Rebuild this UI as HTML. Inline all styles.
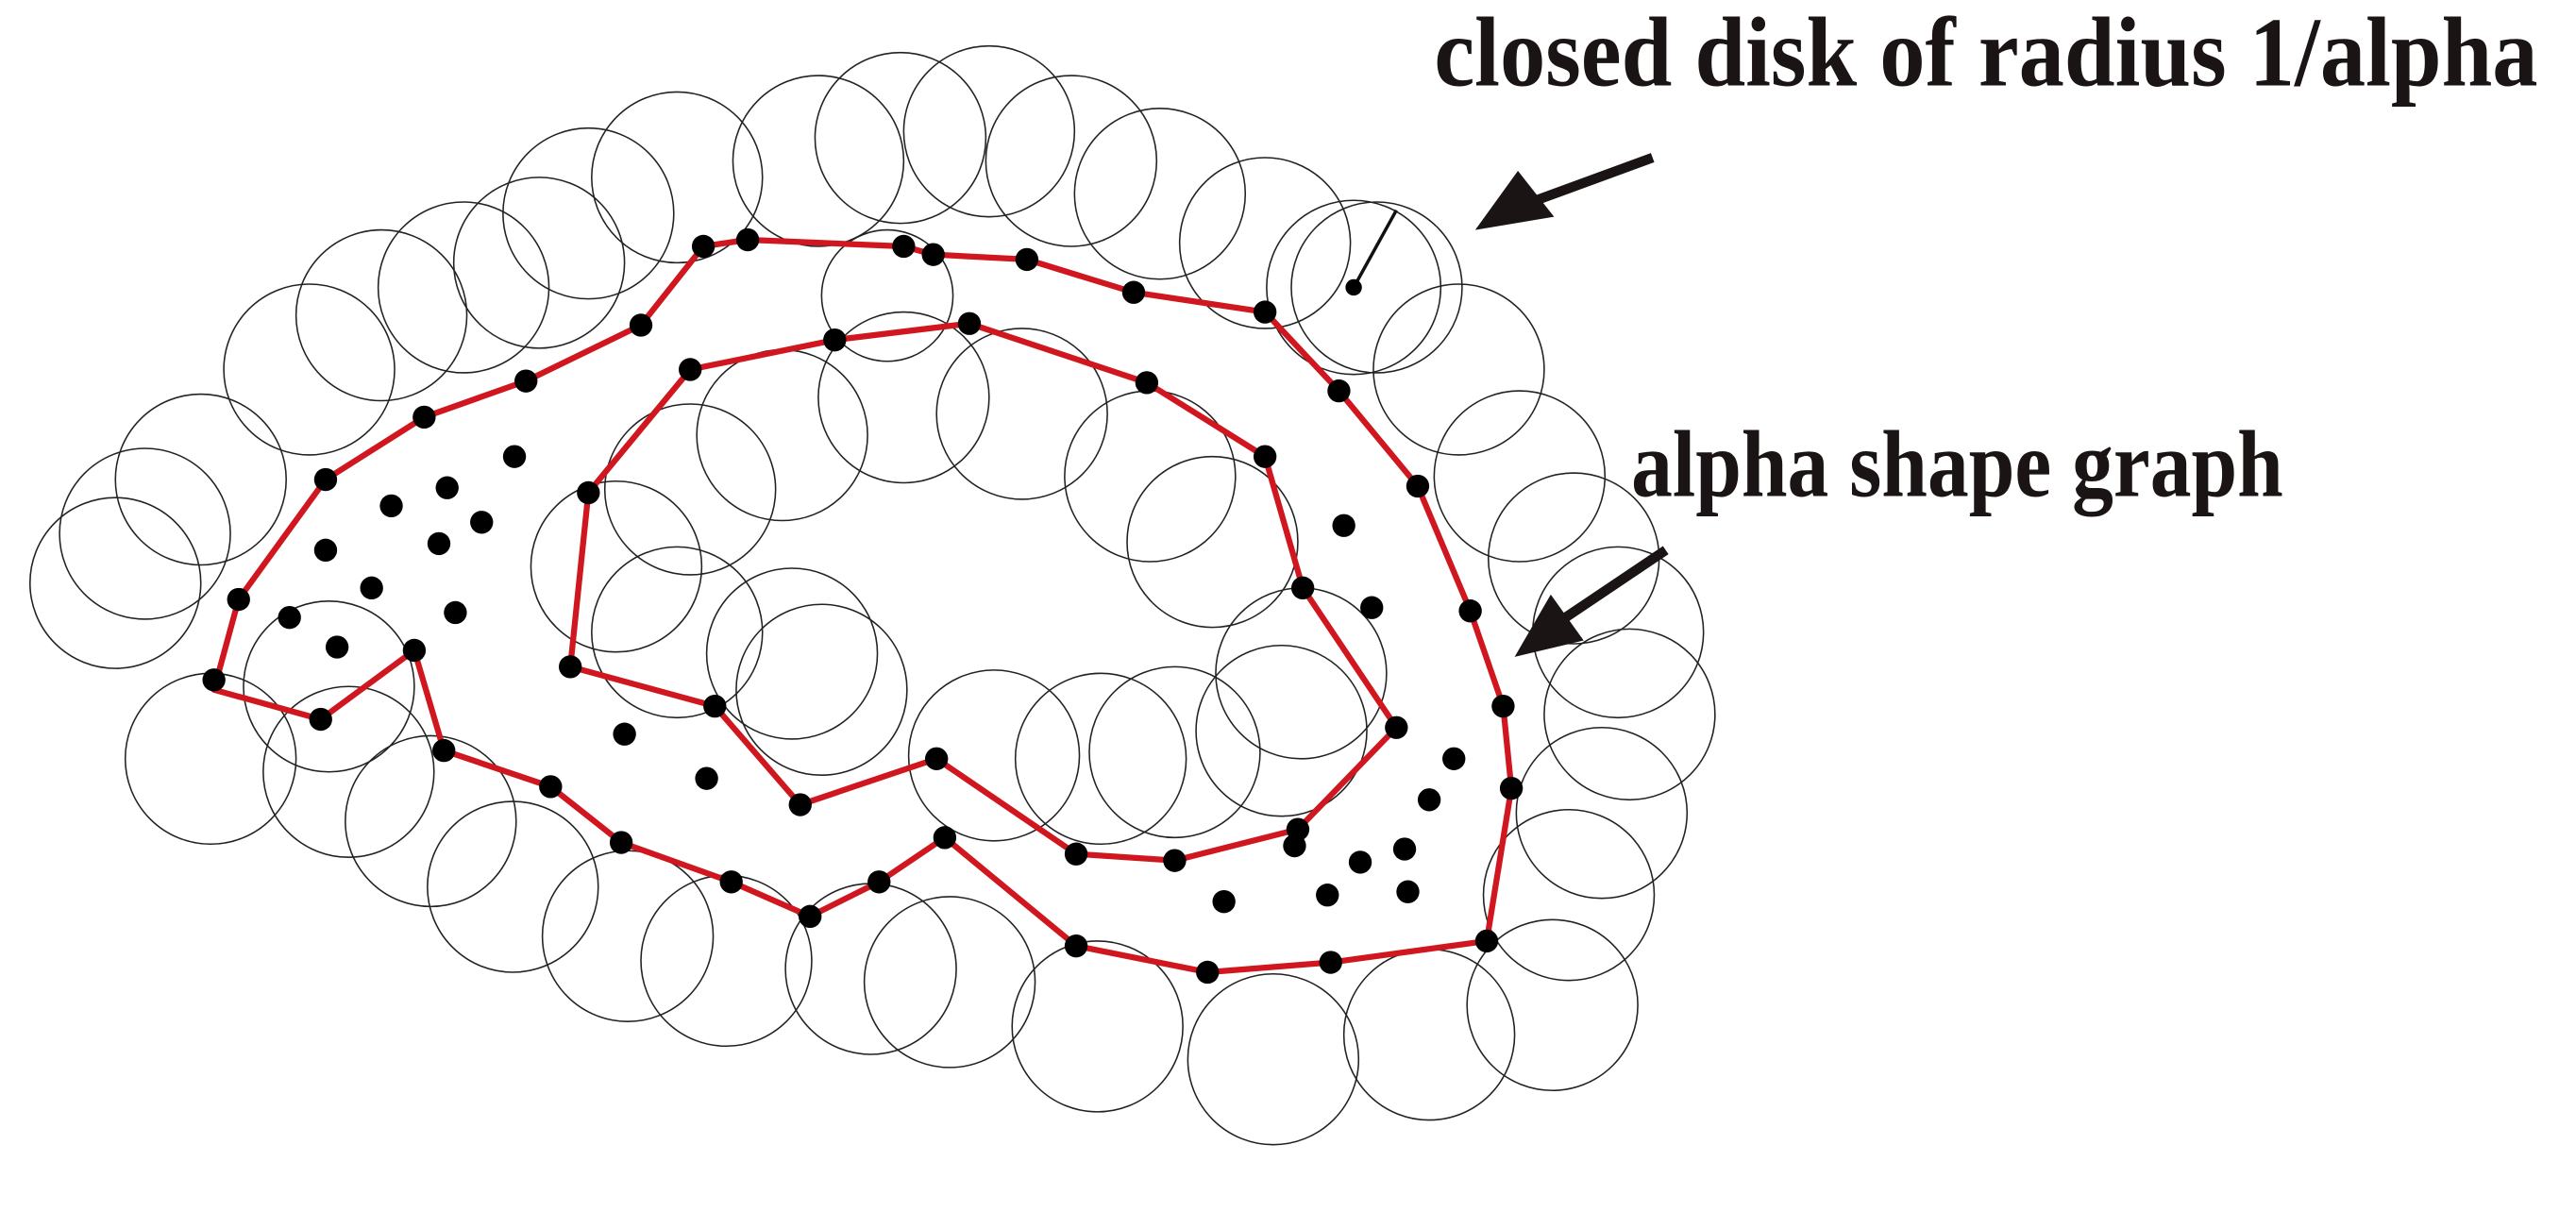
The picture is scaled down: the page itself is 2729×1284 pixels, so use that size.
<!DOCTYPE html>
<html><head><meta charset="utf-8"><style>
html,body{margin:0;padding:0;background:#fff;}
svg{display:block;}
</style></head><body>
<svg width="2729" height="1284" viewBox="0 0 1568 738" xmlns="http://www.w3.org/2000/svg">
<rect width="1568" height="738" fill="#fff"/>
<g fill="none" stroke="#222" stroke-width="0.9">
<circle cx="70" cy="355" r="52"/><circle cx="88" cy="325" r="52"/><circle cx="122" cy="292" r="52"/>
<circle cx="188" cy="225" r="52"/><circle cx="232" cy="192" r="52"/><circle cx="282" cy="175" r="52"/>
<circle cx="328" cy="160" r="52"/><circle cx="358" cy="130" r="52"/><circle cx="412" cy="108" r="52"/>
<circle cx="498" cy="98" r="52"/><circle cx="548" cy="84" r="52"/><circle cx="602" cy="80" r="52"/>
<circle cx="652" cy="98" r="52"/><circle cx="706" cy="118" r="52"/><circle cx="770" cy="148" r="52"/>
<circle cx="838" cy="175" r="52"/><circle cx="888" cy="225" r="52"/><circle cx="925" cy="290" r="52"/>
<circle cx="958" cy="340" r="52"/><circle cx="985" cy="385" r="52"/><circle cx="992" cy="435" r="52"/>
<circle cx="975" cy="495" r="52"/><circle cx="955" cy="545" r="52"/><circle cx="945" cy="612" r="52"/>
<circle cx="870" cy="630" r="52"/><circle cx="775" cy="645" r="52"/><circle cx="668" cy="625" r="52"/>
<circle cx="578" cy="598" r="52"/><circle cx="530" cy="590" r="52"/><circle cx="442" cy="585" r="52"/>
<circle cx="382" cy="570" r="52"/><circle cx="312" cy="540" r="52"/><circle cx="262" cy="500" r="52"/>
<circle cx="212" cy="470" r="52"/><circle cx="128" cy="462" r="52"/><circle cx="200" cy="418" r="52"/>
<circle cx="375" cy="345" r="52"/><circle cx="420" cy="298" r="52"/><circle cx="476" cy="265" r="52"/>
<circle cx="550" cy="242" r="52"/><circle cx="622" cy="252" r="52"/><circle cx="700" cy="290" r="52"/>
<circle cx="738" cy="330" r="52"/><circle cx="792" cy="410" r="52"/><circle cx="780" cy="445" r="52"/>
<circle cx="715" cy="458" r="52"/><circle cx="670" cy="462" r="52"/><circle cx="605" cy="460" r="52"/>
<circle cx="500" cy="420" r="52"/><circle cx="482" cy="398" r="52"/><circle cx="412" cy="385" r="52"/>
<circle cx="824" cy="175" r="53"/><circle cx="540" cy="180" r="40"/>
</g>
<line x1="824" y1="175" x2="850" y2="128" stroke="#111" stroke-width="2"/>
<g fill="none" stroke="#d0161f" stroke-width="3.6" stroke-linejoin="round">
<polygon points="130,420 145,365 198,292 258,254 320,232 390,198 428,150 455,146 550,150 568,155 625,158 690,178 770,190 815,238 863,296 895,372 915,430 920,480 905,573 810,586 735,592 655,576 575,510 535,537 493,558 445,537 378,513 335,479 270,457 252,396 195,438"/>
<polygon points="358,300 420,225 508,207 590,197 698,233 770,278 793,358 850,443 790,505 715,524 655,520 570,462 487,490 435,430 347,406"/>
</g>
<g fill="#000">
<circle cx="130" cy="414" r="7"/><circle cx="145" cy="365" r="7"/><circle cx="198" cy="292" r="7"/><circle cx="258" cy="254" r="7"/><circle cx="320" cy="232" r="7"/><circle cx="390" cy="198" r="7"/><circle cx="428" cy="150" r="7"/><circle cx="455" cy="146" r="7"/><circle cx="550" cy="150" r="7"/><circle cx="568" cy="155" r="7"/><circle cx="625" cy="158" r="7"/><circle cx="690" cy="178" r="7"/><circle cx="770" cy="190" r="7"/><circle cx="815" cy="238" r="7"/><circle cx="863" cy="296" r="7"/><circle cx="895" cy="372" r="7"/><circle cx="915" cy="430" r="7"/><circle cx="920" cy="480" r="7"/><circle cx="905" cy="573" r="7"/><circle cx="810" cy="586" r="7"/><circle cx="735" cy="592" r="7"/><circle cx="655" cy="576" r="7"/><circle cx="575" cy="510" r="7"/><circle cx="535" cy="537" r="7"/><circle cx="493" cy="558" r="7"/><circle cx="445" cy="537" r="7"/><circle cx="378" cy="513" r="7"/><circle cx="335" cy="479" r="7"/><circle cx="270" cy="457" r="7"/><circle cx="252" cy="396" r="7"/><circle cx="195" cy="438" r="7"/>
<circle cx="358" cy="300" r="7"/><circle cx="420" cy="225" r="7"/><circle cx="508" cy="207" r="7"/><circle cx="590" cy="197" r="7"/><circle cx="698" cy="233" r="7"/><circle cx="770" cy="278" r="7"/><circle cx="793" cy="358" r="7"/><circle cx="850" cy="443" r="7"/><circle cx="790" cy="505" r="7"/><circle cx="715" cy="524" r="7"/><circle cx="655" cy="520" r="7"/><circle cx="570" cy="462" r="7"/><circle cx="487" cy="490" r="7"/><circle cx="435" cy="430" r="7"/><circle cx="347" cy="406" r="7"/>
<circle cx="238" cy="308" r="7"/><circle cx="272" cy="297" r="7"/><circle cx="313" cy="278" r="7"/><circle cx="198" cy="335" r="7"/><circle cx="267" cy="331" r="7"/><circle cx="293" cy="318" r="7"/><circle cx="226" cy="358" r="7"/><circle cx="176" cy="376" r="7"/><circle cx="277" cy="373" r="7"/><circle cx="205" cy="394" r="7"/><circle cx="380" cy="447" r="7"/><circle cx="430" cy="474" r="7"/><circle cx="818" cy="320" r="7"/><circle cx="835" cy="370" r="7"/><circle cx="885" cy="462" r="7"/><circle cx="870" cy="487" r="7"/><circle cx="855" cy="517" r="7"/><circle cx="828" cy="525" r="7"/><circle cx="808" cy="545" r="7"/><circle cx="857" cy="543" r="7"/><circle cx="745" cy="549" r="7"/><circle cx="788" cy="515" r="7"/>
<circle cx="824" cy="175" r="5"/>
</g>
<g stroke="#1a1414" stroke-width="6" fill="#1a1414">
<line x1="1006" y1="96" x2="935" y2="122"/>
<polygon points="898,140 924,104 946,132" stroke="none"/>
<line x1="1014" y1="335" x2="950" y2="378"/>
<polygon points="922,400 944,362 964,390" stroke="none"/>
</g>
<g font-family="Liberation Serif, serif" font-weight="bold" fill="#1a1414">
<text x="873" y="52" font-size="60" textLength="672" lengthAdjust="spacingAndGlyphs">closed disk of radius 1/alpha</text>
<text x="993" y="302" font-size="58" textLength="397" lengthAdjust="spacingAndGlyphs">alpha shape graph</text>
</g>
</svg>
</body></html>
